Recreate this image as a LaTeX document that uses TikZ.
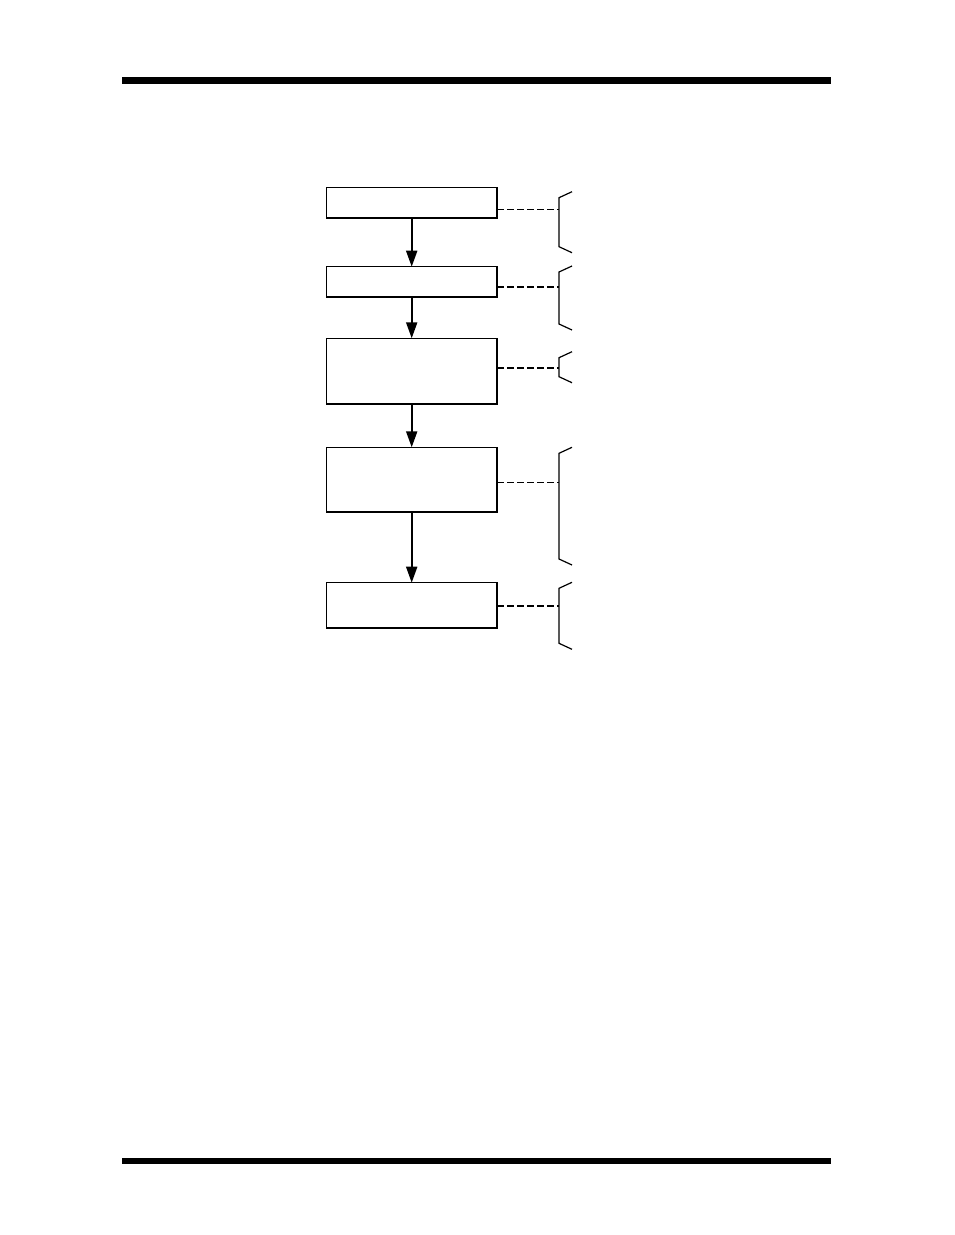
\documentclass[tikz,border=0pt]{standalone}
\usetikzlibrary{positioning, arrows.meta}

\tikzset{
  stage/.style={draw, line width=1.1pt, minimum width=171pt, inner sep=0pt, outer sep=0pt},
  flow/.style={line width=2pt, -{Triangle[length=16pt,width=11pt]}},
  thinlink/.style={line width=0.9pt, dash pattern=on 6.5pt off 3.5pt},
  thicklink/.style={line width=2.4pt, dash pattern=on 7pt off 3pt},
  bracefrm/.style={line width=1.2pt}
}
\newcommand{\sidebrace}[2]{\draw[bracefrm] (572,#1) -- (559,#1+6) -- (559,#2-6) -- (572,#2);}

\begin{document}
\begin{tikzpicture}[x=1pt, y=-1pt]
        \useasboundingbox (0,0) rectangle (954,1235);
        % page rules
        \fill (122,77) rectangle (831,84);
        \fill (122,1158) rectangle (831,1164);

        \node[stage, minimum height=30.6pt] (s1) at (411.7,203) {};
        \node[stage, minimum height=30pt, below=48.4pt of s1] (s2) {};
        \node[stage, minimum height=65.7pt, below=41.6pt of s2] (s3) {};
        \node[stage, minimum height=65pt, below=43.3pt of s3] (s4) {};
        \node[stage, minimum height=45.3pt, below=70.4pt of s4] (s5) {};

        % heavier right and bottom edges
        \foreach \n in {1,...,5}
            \draw[line width=1.9pt] (s\n.north east) |- (s\n.south west);

        \draw[flow] (s1) -- (s2);
        \draw[flow] (s2) -- (s3);
        \draw[flow] (s3) -- (s4);
        \draw[flow] (s4) -- (s5);

        % braces on the right
        \sidebrace{191.7}{252.7}
        \sidebrace{266}{330}
        \sidebrace{351.7}{382.7}
        \sidebrace{447.3}{565}
        \sidebrace{582.3}{649.3}

        \coordinate (c1) at (559,209.3);
        \coordinate (c2) at (559,286.7);
        \coordinate (c3) at (559,367.7);
        \coordinate (c4) at (559,482.3);
        \coordinate (c5) at (559,605.7);

        \draw[thinlink]  (s1.east |- c1) -- (c1);
        \draw[thicklink] (s2.east |- c2) -- (c2);
        \draw[thicklink] (s3.east |- c3) -- (c3);
        \draw[thinlink]  (s4.east |- c4) -- (c4);
        \draw[thicklink] (s5.east |- c5) -- (c5);
\end{tikzpicture}
\end{document}
